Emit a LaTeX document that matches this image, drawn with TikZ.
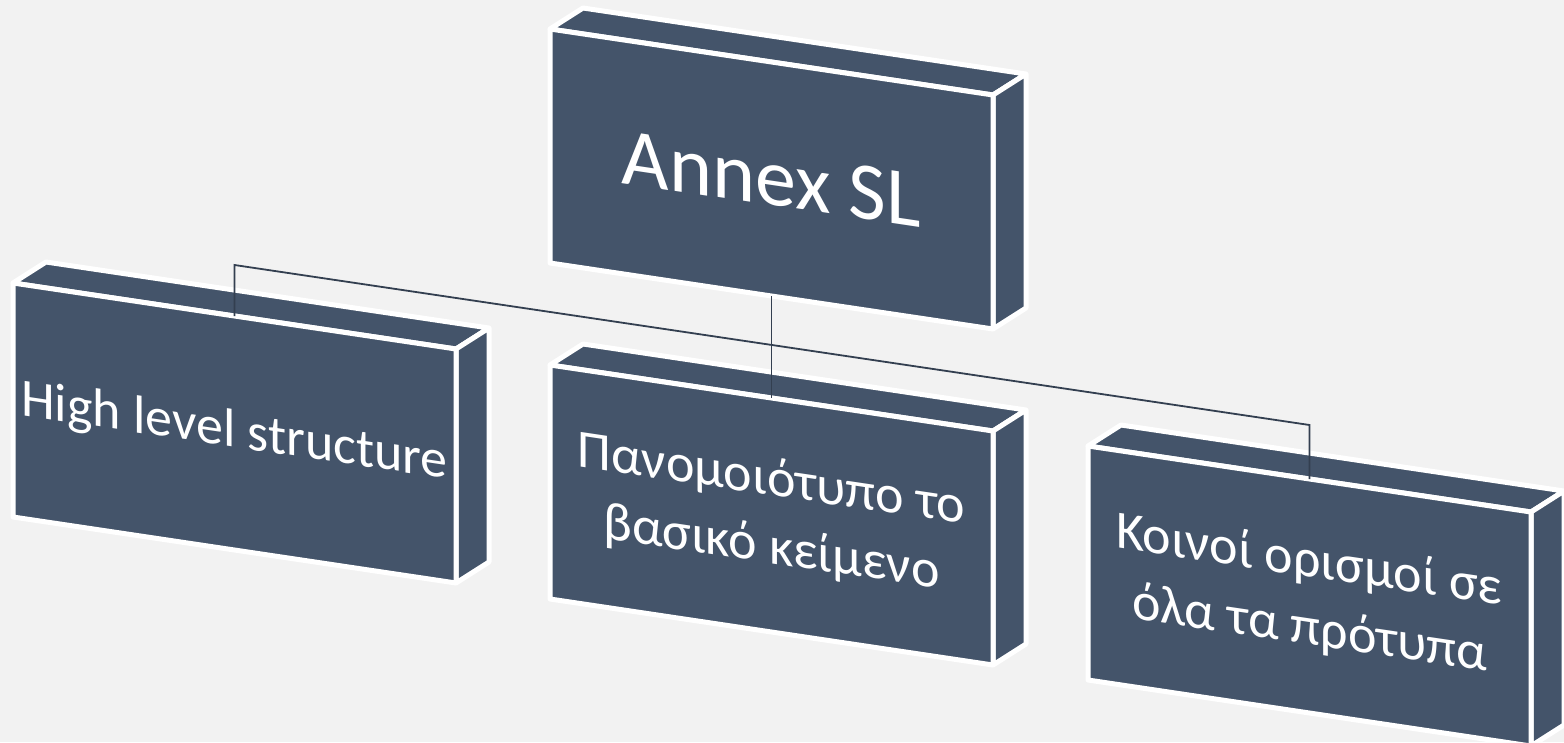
\documentclass[tikz,border=0pt]{standalone}
\usepackage{fontspec}
\setmainfont{Carlito}
\definecolor{boxfill}{HTML}{44546A}
\definecolor{bgc}{HTML}{F2F2F2}
\definecolor{conn}{HTML}{333F50}
\newcommand\mkbox[3]{%
 \coordinate (#1-ftl) at (#2,#3);
 \coordinate (#1-ftr) at (#2+443,#3+66);
 \coordinate (#1-fbr) at (#2+443,#3+300);
 \coordinate (#1-fbl) at (#2,#3+234);
 \coordinate (#1-btl) at (#2+33,#3-21);
 \coordinate (#1-btr) at (#2+476,#3+45);
 \coordinate (#1-bbr) at (#2+476,#3+279);
 \coordinate (#1-c) at (#2+221.5,#3+150);
 \coordinate (#1-top) at (#2+221.5,#3+33);
 \coordinate (#1-bot) at (#2+221.5,#3+267);
 \path[boxface] (#1-ftl) -- (#1-btl) -- (#1-btr) -- (#1-ftr) -- cycle;
 \path[boxface] (#1-ftr) -- (#1-btr) -- (#1-bbr) -- (#1-fbr) -- cycle;
 \path[boxface] (#1-ftl) -- (#1-ftr) -- (#1-fbr) -- (#1-fbl) -- cycle;
}
\begin{document}
\begin{tikzpicture}[x=1pt,y=-1pt,
  boxface/.style={fill=boxfill,draw=white,line width=5pt,line join=round},
  connector/.style={draw=conn,line width=1.8pt},
  boxtext/.style={text=white,yslant=-0.149,align=center,inner sep=0pt}]
\useasboundingbox (0,0) rectangle (1564,742);
\fill[bgc] (0,0) rectangle (1564,742);
\mkbox{top}{550}{29}
\mkbox{left}{13}{283}
\mkbox{mid}{550}{365}
\mkbox{right}{1088}{446}
\node[boxtext,font=\fontsize{82}{98}\selectfont] (t-top) at (top-c) {Annex SL};
\node[boxtext,font=\fontsize{54}{68}\selectfont] (t-left) at (left-c) {High level structure};
\node[boxtext,font=\fontsize{54}{68}\selectfont] (t-mid) at (mid-c) {Πανομοιότυπο το\\βασικό κείμενο};
\node[boxtext,font=\fontsize{54}{68}\selectfont] (t-right) at (right-c) {Κοινοί ορισμοί σε\\όλα τα πρότυπα};
\coordinate (bus-l) at (234.5,265);
\coordinate (bus-r) at (1309.5,425);
\draw[connector] (top-bot) -- (mid-top);
\draw[connector] (left-top) -- (bus-l) -- (bus-r) -- (right-top);
\end{tikzpicture}
\end{document}
